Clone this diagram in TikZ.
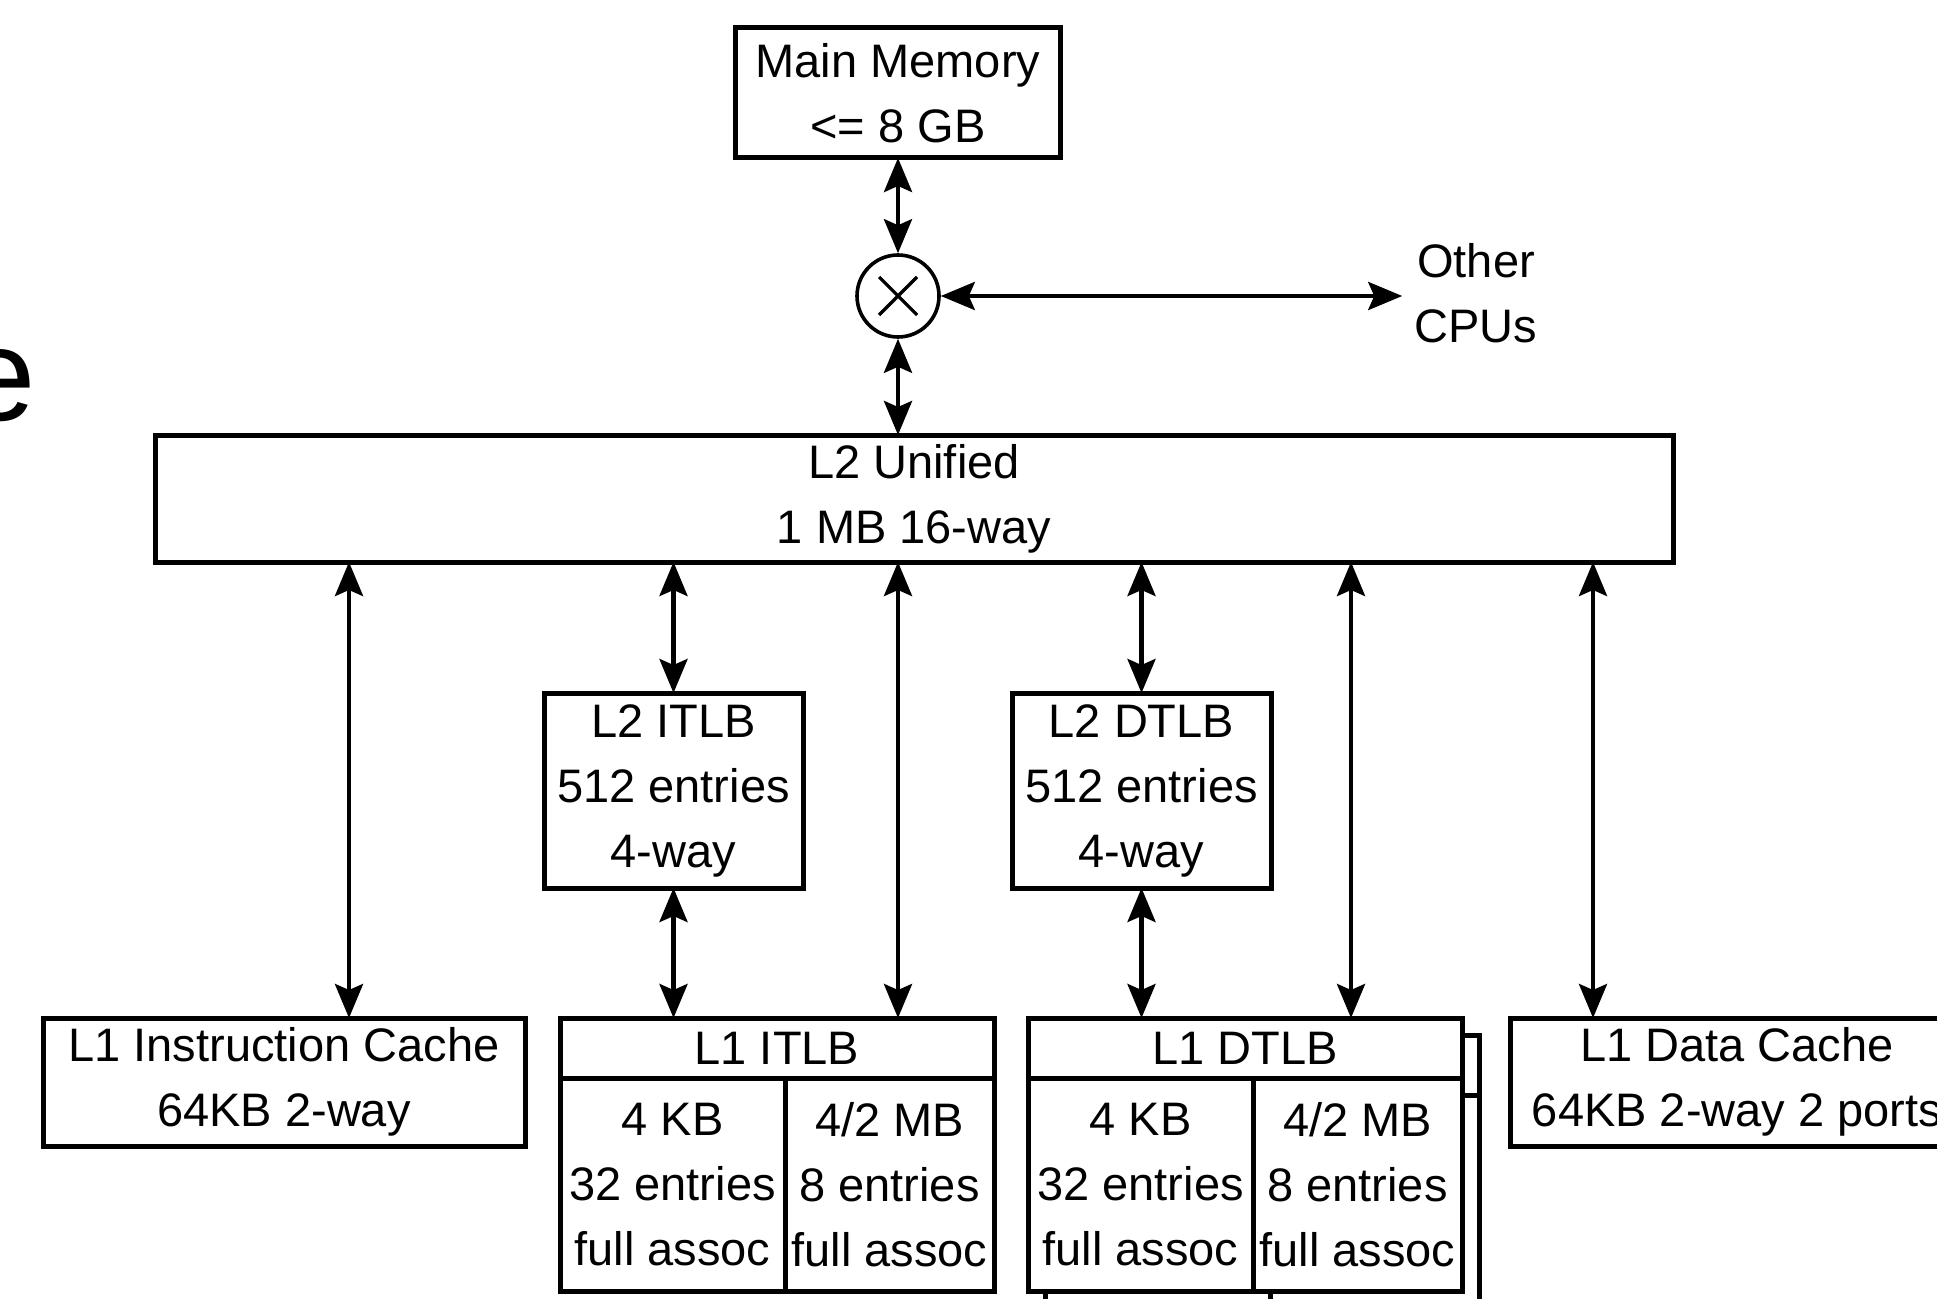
\documentclass[tikz,border=0pt]{standalone}
\usepackage{fontspec}
\setmainfont{Liberation Sans}
\usetikzlibrary{arrows.meta,positioning}

\begin{document}
\begin{tikzpicture}[x=0.5pt,y=-0.5pt,>={Stealth[length=17pt,width=14pt,inset=3pt]},
  font=\fontsize{23.5pt}{32.5pt}\selectfont,
  box/.style={draw,line width=2.5pt,fill=white,align=center,inner sep=0pt,outer sep=0pt},
  link/.style={<->,line width=2.2pt}]
  \useasboundingbox (0,0) rectangle (1937,1299);
  \node[anchor=base east,inner sep=0pt,font=\fontsize{66pt}{66pt}\selectfont] (cut) at (36,421) {e};

  \node[box,minimum width=162.5pt,minimum height=65pt] (mem) at (898,93) {Main Memory\\<= 8 GB};
  \node[circle,draw,line width=1.8pt,minimum size=41pt,inner sep=0pt] (xbar) at (898,296) {};
  \draw[line width=1.6pt] (xbar.center) +(-19,-19) -- +(19,19) +(-19,19) -- +(19,-19);
  \node[align=center,inner sep=6pt] (cpus) at (1476,293) {Other\\CPUs};
  \node[box,minimum width=759pt,minimum height=63.5pt] (l2) at (914,498.5) {L2 Unified\\1 MB 16-way};

  \node[box,minimum width=129.5pt,minimum height=97.5pt] (itlb2) at (673.5,790.5) {L2 ITLB\\512 entries\\4-way};
  \node[box,minimum width=129.5pt,minimum height=97.5pt] (dtlb2) at (1141.5,790.5) {L2 DTLB\\512 entries\\4-way};

  \node[box,minimum width=241pt,minimum height=64pt] (l1i) at (284,1082) {L1 Instruction Cache\\64KB 2-way};
  \node[box,minimum width=227pt,minimum height=64pt] (l1d) at (1737,1082) {L1 Data Cache\\64KB 2-way 2 ports};

  % second DTLB sitting behind the first one
  \begin{scope}[shift={(17,17)},line width=2.5pt]
    \draw[fill=white] (1028,1018) rectangle ++(434,273);
    \draw (1028,1078) -- ++(434,0) (1253,1078) -- ++(0,213);
  \end{scope}
  \foreach \name/\lbl/\x in {itlb/ITLB/560,dtlb/DTLB/1028}{
    \node[box,anchor=north west,minimum width=217pt,minimum height=30pt] (l1\name) at (\x,1018) {L1 \lbl};
    \node[box,anchor=north west,minimum width=112.5pt,minimum height=106.5pt] (\name-4k) at (l1\name.south west) {4 KB\\32 entries\\full assoc};
    \node[box,anchor=north west,minimum width=104.5pt,minimum height=106.5pt] (\name-2m) at (\name-4k.north east) {4/2 MB\\8 entries\\full assoc};
  }

  \draw[link] (mem.south) -- (xbar.north);
  \draw[link] (xbar.south) -- (xbar.south |- l2.north);
  \draw[link] (xbar.east) -- (xbar.east -| cpus.west);
  \foreach \x/\target in {349/l1i,673.5/itlb2,898/l1itlb,1141.5/dtlb2,1351/l1dtlb,1593/l1d}
    \draw[link] (\x,0 |- l2.south) -- (\x,0 |- \target.north);
  \draw[link] (itlb2.south) -- (itlb2.south |- l1itlb.north);
  \draw[link] (dtlb2.south) -- (dtlb2.south |- l1dtlb.north);
\end{tikzpicture}
\end{document}
